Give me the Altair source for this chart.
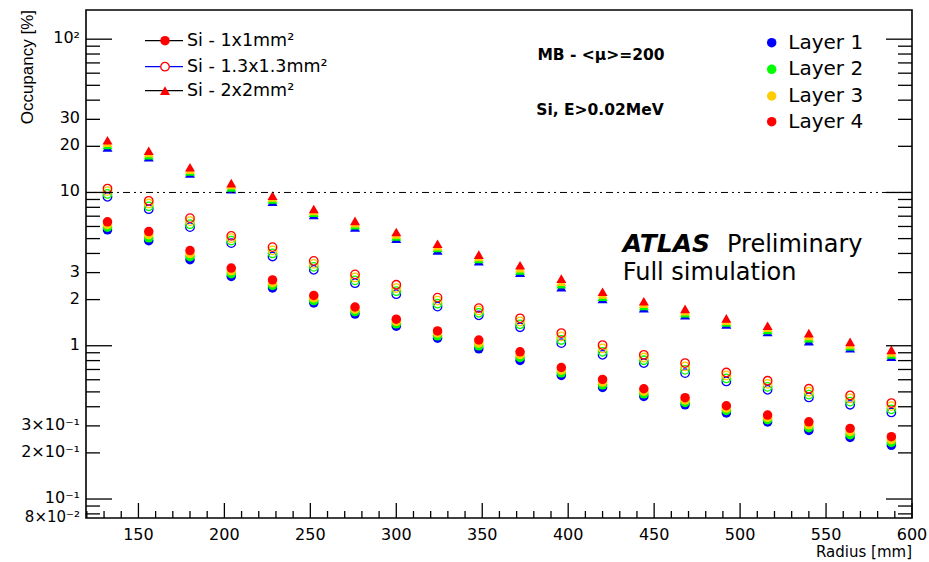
import altair as alt
import pandas as pd

# ---------------- data ----------------
RADIUS = [132, 156, 180, 204, 228, 252, 276, 300, 324, 348, 372, 396,
          420, 444, 468, 492, 516, 540, 564, 588]
LAYERS = ["Layer 1", "Layer 2", "Layer 3", "Layer 4"]
LAYER_COLORS = ["#0000ff", "#00ff00", "#ffcc00", "#ff0000"]
PIXEL_SIZES = ["Si - 1x1mm²", "Si - 1.3x1.3mm²", "Si - 2x2mm²"]

# 1x1 mm^2 (filled circles)
OCC_1x1_L1 = [5.70, 4.84, 3.64, 2.83, 2.38, 1.90, 1.61, 1.34, 1.12, 0.955, 0.802, 0.640, 0.534, 0.467, 0.412, 0.364, 0.318, 0.280, 0.252, 0.224]
OCC_1x1_L2 = [5.93, 5.06, 3.81, 2.95, 2.48, 1.97, 1.67, 1.39, 1.16, 0.998, 0.838, 0.666, 0.556, 0.486, 0.427, 0.378, 0.329, 0.292, 0.263, 0.234]
OCC_1x1_L3 = [6.17, 5.30, 3.99, 3.08, 2.58, 2.05, 1.73, 1.44, 1.21, 1.04, 0.875, 0.693, 0.579, 0.505, 0.442, 0.392, 0.341, 0.305, 0.276, 0.244]
OCC_1x1_L4 = [6.43, 5.56, 4.18, 3.21, 2.69, 2.13, 1.79, 1.49, 1.25, 1.09, 0.913, 0.721, 0.603, 0.524, 0.458, 0.406, 0.353, 0.319, 0.289, 0.255]

# 1.3x1.3 mm^2 (open circles)
OCC_13_L1 = [9.37, 7.78, 5.94, 4.67, 3.82, 3.13, 2.56, 2.17, 1.80, 1.58, 1.32, 1.04, 0.873, 0.771, 0.663, 0.585, 0.516, 0.460, 0.412, 0.367]
OCC_13_L2 = [9.78, 8.12, 6.21, 4.85, 4.00, 3.27, 2.67, 2.27, 1.88, 1.64, 1.38, 1.09, 0.913, 0.804, 0.696, 0.612, 0.539, 0.480, 0.432, 0.385]
OCC_13_L3 = [10.2, 8.47, 6.50, 5.03, 4.19, 3.42, 2.79, 2.38, 1.97, 1.70, 1.44, 1.15, 0.960, 0.838, 0.733, 0.640, 0.564, 0.501, 0.453, 0.404]
OCC_13_L4 = [10.6, 8.82, 6.80, 5.21, 4.40, 3.58, 2.92, 2.50, 2.06, 1.76, 1.51, 1.21, 1.01, 0.873, 0.771, 0.669, 0.591, 0.524, 0.474, 0.423]

# 2x2 mm^2 (triangles)
OCC_2x2_L1 = [19.7, 17.0, 13.3, 10.5, 8.72, 7.13, 5.92, 5.00, 4.19, 3.56, 3.00, 2.41, 2.02, 1.76, 1.58, 1.38, 1.23, 1.07, 0.963, 0.850]
OCC_2x2_L2 = [20.4, 17.5, 13.7, 10.8, 9.00, 7.37, 6.12, 5.17, 4.34, 3.68, 3.10, 2.52, 2.09, 1.82, 1.63, 1.42, 1.27, 1.12, 0.994, 0.878]
OCC_2x2_L3 = [21.1, 18.1, 14.1, 11.2, 9.27, 7.58, 6.31, 5.33, 4.47, 3.80, 3.21, 2.62, 2.16, 1.88, 1.68, 1.46, 1.31, 1.16, 1.02, 0.906]
OCC_2x2_L4 = [21.9, 18.7, 14.6, 11.5, 9.53, 7.80, 6.52, 5.52, 4.63, 3.93, 3.35, 2.74, 2.25, 1.95, 1.74, 1.51, 1.35, 1.21, 1.06, 0.939]

REFERENCE_LEVEL = 10

X_TICK_VALUES = [150, 200, 250, 300, 350, 400, 450, 500, 550, 600]
X_TICK_LABELS = ["150", "200", "250", "300", "350", "400", "450", "500", "550", "600"]
X_MINOR = [v for v in range(120, 601, 10) if v % 50 != 0]
Y_TICK_VALUES = [0.1, 0.2, 0.3, 1, 2, 3, 10, 20, 30, 100]
Y_TICK_LABELS = ["10⁻¹", "2×10⁻¹", "3×10⁻¹", "1", "2", "3", "10", "20", "30", "10²"]
Y_EDGE_VALUE = [0.08]
Y_EDGE_LABEL = ["8×10⁻²"]
Y_MAJOR = [0.1, 1, 10, 100]
Y_MINOR = [0.08, 0.09, 0.2, 0.3, 0.4, 0.5, 0.6, 0.7, 0.8, 0.9,
           2, 3, 4, 5, 6, 7, 8, 9, 20, 30, 40, 50, 60, 70, 80, 90]

# ---------------- table ----------------
SERIES = {
    PIXEL_SIZES[0]: [OCC_1x1_L1, OCC_1x1_L2, OCC_1x1_L3, OCC_1x1_L4],
    PIXEL_SIZES[1]: [OCC_13_L1, OCC_13_L2, OCC_13_L3, OCC_13_L4],
    PIXEL_SIZES[2]: [OCC_2x2_L1, OCC_2x2_L2, OCC_2x2_L3, OCC_2x2_L4],
}
rows = []
for size, per_layer in SERIES.items():
    for li, vals in enumerate(per_layer):
        for r, v in zip(RADIUS, vals):
            rows.append({"size": size, "layer": LAYERS[li], "li": li, "r": r, "occ": v})
df = pd.DataFrame(rows).sort_values(["li", "r"], kind="stable")

W, H = 826, 508
FONT = "DejaVu Sans"

X_SCALE = alt.Scale(domain=[119.5, 600], nice=False, zero=False)
Y_SCALE = alt.Scale(type="log", domain=[0.0752, 155], nice=False)
COLOR = alt.Color("layer:N", scale=alt.Scale(domain=LAYERS, range=LAYER_COLORS), legend=None)


def points(size, shape, filled, msize, sw=0.0):
    sub = df[df["size"] == size]
    return alt.Chart(sub).mark_point(
        shape=shape, filled=filled, size=msize, opacity=1, strokeWidth=sw
    ).encode(
        x=alt.X("r:Q", scale=X_SCALE, axis=None),
        y=alt.Y("occ:Q", scale=Y_SCALE, axis=None),
        color=COLOR,
    )


layers = []
layers.append(points(PIXEL_SIZES[0], "circle", True, 90))
layers.append(points(PIXEL_SIZES[1], "circle", False, 72, sw=1.3))
layers.append(points(PIXEL_SIZES[2], "triangle-up", True, 100))

# dash-dot reference line at 10 %
layers.append(
    alt.Chart(pd.DataFrame({"v": [REFERENCE_LEVEL]})).mark_rule(
        color="black", strokeWidth=1, strokeDash=[7, 4, 2, 4, 2, 4]
    ).encode(y=alt.Y("v:Q", scale=Y_SCALE, axis=None))
)


# ticks (ROOT style, inside the frame)
def yticks(vals, x0, x1):
    return alt.Chart(pd.DataFrame({"v": vals})).mark_rule(color="black", strokeWidth=1.3).encode(
        y=alt.Y("v:Q", scale=Y_SCALE, axis=None), x=alt.value(x0), x2=alt.value(x1))


def xticks(vals, length):
    return alt.Chart(pd.DataFrame({"v": vals})).mark_rule(color="black", strokeWidth=1.3).encode(
        x=alt.X("v:Q", scale=X_SCALE, axis=None), y=alt.value(H), y2=alt.value(H - length))


layers += [yticks(Y_MAJOR, 0, 26), yticks(Y_MINOR, 0, 14),
           yticks(Y_MAJOR, W, W - 26), yticks(Y_MINOR, W, W - 14),
           xticks(X_TICK_VALUES, 15), xticks(X_MINOR, 7)]

# tick labels
layers.append(
    alt.Chart(pd.DataFrame({"v": Y_TICK_VALUES, "lab": Y_TICK_LABELS})).mark_text(
        font=FONT, fontSize=16, align="right", baseline="middle", color="black", dy=-1
    ).encode(y=alt.Y("v:Q", scale=Y_SCALE, axis=None), x=alt.value(-6), text="lab:N")
)
layers.append(
    alt.Chart(pd.DataFrame({"v": Y_EDGE_VALUE, "lab": Y_EDGE_LABEL})).mark_text(
        font=FONT, fontSize=15, align="right", baseline="middle", color="black", dy=3
    ).encode(y=alt.Y("v:Q", scale=Y_SCALE, axis=None), x=alt.value(-6), text="lab:N")
)
layers.append(
    alt.Chart(pd.DataFrame({"v": X_TICK_VALUES, "lab": X_TICK_LABELS})).mark_text(
        font=FONT, fontSize=16, align="center", baseline="top", color="black"
    ).encode(x=alt.X("v:Q", scale=X_SCALE, axis=None), y=alt.value(H + 9), text="lab:N")
)


def one():
    return pd.DataFrame({"k": [0]})


def txt(s, x, y, size, font=FONT, weight="normal", style="normal", align="left",
        baseline="middle", angle=0):
    return alt.Chart(one()).mark_text(
        text=s, font=font, fontSize=size, fontWeight=weight, fontStyle=style,
        align=align, baseline=baseline, angle=angle, color="black"
    ).encode(x=alt.value(x), y=alt.value(y))


# left legend (pixel sizes)
OX, OY = 86, 10
leg_rows = [40.7, 66.7, 90.7]
leg_line_colors = ["black", "#0000ff", "black"]
for i, (label, yy, lc) in enumerate(zip(PIXEL_SIZES, leg_rows, leg_line_colors)):
    y = yy - OY
    layers.append(alt.Chart(one()).mark_rule(color=lc, strokeWidth=1.3).encode(
        x=alt.value(145 - OX), x2=alt.value(183 - OX), y=alt.value(y)))
    if i == 0:
        m = alt.Chart(one()).mark_point(shape="circle", filled=True, size=90, opacity=1,
                                        color="#ff0000", strokeWidth=0)
    elif i == 1:
        m = alt.Chart(one()).mark_point(shape="circle", filled=True, size=72, opacity=1,
                                        fill="white", stroke="#ff0000", strokeWidth=1.3)
    else:
        m = alt.Chart(one()).mark_point(shape="triangle-up", filled=True, size=100, opacity=1,
                                        color="#ff0000", strokeWidth=0)
    layers.append(m.encode(x=alt.value(165 - OX), y=alt.value(y)))
    layers.append(txt(label, 187 - OX, y, 17.5))

# right legend (layers)
r_rows = [42.7, 69.3, 96.0, 121.7]
for label, col, yy in zip(LAYERS, LAYER_COLORS, r_rows):
    y = yy - OY
    layers.append(alt.Chart(one()).mark_point(shape="circle", filled=True, size=90, opacity=1,
                                              color=col, strokeWidth=0).encode(
        x=alt.value(771.7 - OX), y=alt.value(y)))
    layers.append(txt(label, 788.3 - OX, y, 20))

# annotations
layers.append(txt("MB - <μ>=200", 601 - OX, 55 - OY, 15.5, weight="bold", align="center"))
layers.append(txt("Si, E>0.02MeV", 600 - OX, 110 - OY, 15.5, weight="bold", align="center"))
layers.append(txt("ATLAS", 622.7 - OX, 251.7 - OY, 25, weight="bold", style="italic",
                  baseline="alphabetic"))
layers.append(txt("Preliminary", 727 - OX, 251.7 - OY, 24, baseline="alphabetic"))
layers.append(txt("Full simulation", 622.7 - OX, 280 - OY, 24, baseline="alphabetic"))

# axis titles
layers.append(txt("Radius [mm]", W, 557 - OY, 15, align="right", baseline="alphabetic"))
layers.append(txt("Occupancy [%]", 27.5 - OX, 0, 17, font="Liberation Sans", align="right",
                  baseline="middle", angle=270))

chart = alt.layer(*layers).properties(
    width=W, height=H,
    autosize=alt.AutoSizeParams(type="none"),
    padding={"left": 86, "top": 10, "right": 17, "bottom": 44},
    background="white",
).configure_view(stroke="black", strokeWidth=1.6)

chart.save("out.html", embed_options={"renderer": "svg", "actions": False})
